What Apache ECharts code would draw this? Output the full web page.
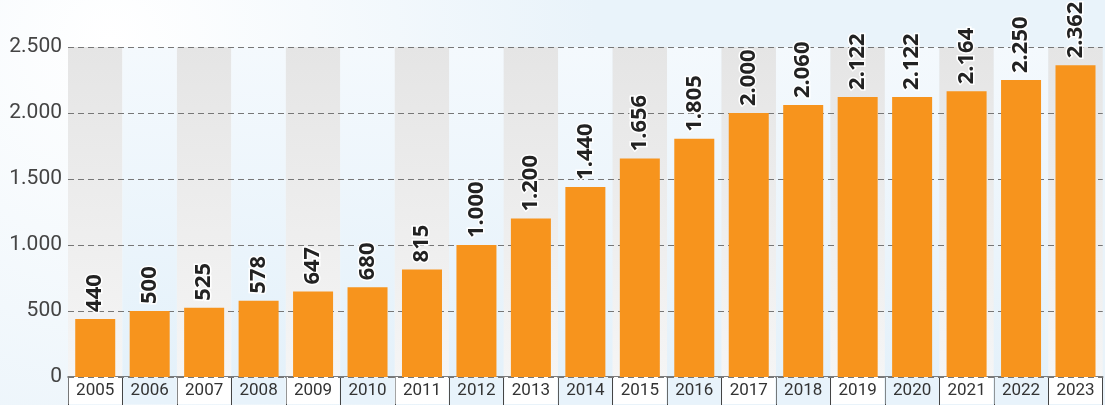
<!DOCTYPE html>
<html>
<head>
<meta charset="utf-8">
<script src="https://cdn.jsdelivr.net/npm/echarts@6/dist/echarts.min.js"></script>
<style>
  html, body { margin: 0; padding: 0; }
  #chart { width: 1105px; height: 405px; }
</style>
</head>
<body>
<div id="chart"></div>
<script>
var years = ['2005','2006','2007','2008','2009','2010','2011','2012','2013','2014',
             '2015','2016','2017','2018','2019','2020','2021','2022','2023'];
var values = [440, 500, 525, 578, 647, 680, 815, 1000, 1200, 1440,
              1656, 1805, 2000, 2060, 2122, 2122, 2164, 2250, 2362];
var yTicks = [0, 500, 1000, 1500, 2000, 2500];

// 2.362 style, dot as thousands separator
function fmt(n) {
    return String(n).replace(/\B(?=(\d{3})+(?!\d))/g, '.');
}

var grayBand = new echarts.graphic.LinearGradient(0, 0, 0, 1, [
    {offset: 0, color: '#e5e5e5'}, {offset: 1, color: '#f5f5f5'}
]);
var blueBand = new echarts.graphic.LinearGradient(0, 0, 0, 1, [
    {offset: 0, color: '#f4f9fd'}, {offset: 1, color: '#e4f1fa'}
]);
var condensed = 'Liberation Sans Narrow, Roboto, sans-serif';

var option = {
    backgroundColor: new echarts.graphic.RadialGradient(0.1, 0.1, 1.2, [
        {offset: 0, color: '#ffffff'}, {offset: 1, color: '#e9f3fa'}
    ]),
    animation: false,
    grid: {left: 68, right: 2, top: 47, bottom: 28},
    xAxis: {
        type: 'category',
        data: years,
        z: 0,
        axisLine: {lineStyle: {color: '#555', width: 1.5}},
        axisTick: {show: true, length: 28, lineStyle: {color: '#444', width: 1}},
        splitArea: {show: true, areaStyle: {color: [grayBand, blueBand]}},
        axisLabel: {
            margin: 0,
            interval: 0,
            formatter: function (v, i) {
                return (i % 2 ? '{b|' : '{a|') + v + '}';
            },
            rich: {
                a: {backgroundColor: '#ffffff', width: 53, height: 27, align: 'center',
                    fontSize: 17, color: '#333', fontFamily: condensed},
                b: {backgroundColor: '#e8f3fb', width: 53, height: 27, align: 'center',
                    fontSize: 17, color: '#333', fontFamily: condensed}
            }
        }
    },
    yAxis: {
        type: 'value',
        min: yTicks[0],
        max: yTicks[yTicks.length - 1],
        interval: 500,
        z: 1,
        axisLine: {show: false},
        axisTick: {show: false},
        axisLabel: {
            margin: 6,
            fontSize: 21,
            color: '#444',
            fontFamily: condensed,
            formatter: function (v) { return fmt(v); }
        },
        splitLine: {lineStyle: {color: '#777', type: [6, 4], width: 1}}
    },
    series: [{
        type: 'bar',
        data: values,
        barWidth: 40,
        z: 2,
        itemStyle: {color: '#f7941d'},
        label: {
            show: true,
            position: 'top',
            rotate: 90,
            align: 'left',
            verticalAlign: 'middle',
            distance: 7,
            fontSize: 22,
            fontWeight: 'bold',
            color: '#222',
            fontFamily: 'Open Sans, sans-serif',
            textBorderColor: '#fff',
            textBorderWidth: 3,
            formatter: function (p) { return fmt(p.value); }
        }
    }]
};

echarts.init(document.getElementById('chart')).setOption(option);
</script>
</body>
</html>
